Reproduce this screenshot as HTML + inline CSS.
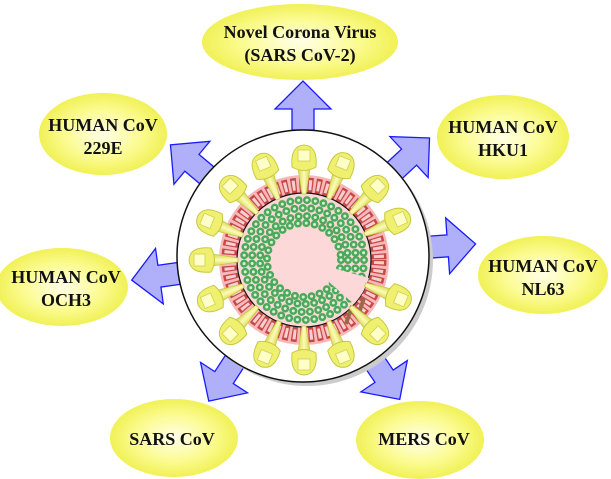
<!DOCTYPE html>
<html><head><meta charset="utf-8"><style>
html,body{margin:0;padding:0;background:#fff}
svg{display:block}
text{font-family:"Liberation Serif",serif;font-weight:bold;font-size:18px;fill:#111;text-anchor:middle}
</style></head><body>
<svg width="611" height="479" viewBox="0 0 611 479" xmlns="http://www.w3.org/2000/svg">
<defs>
<radialGradient id="yg" cx="50%" cy="50%" r="55%">
<stop offset="0" stop-color="#ffffe8"/><stop offset="0.55" stop-color="#fbfb90"/><stop offset="1" stop-color="#eeee48"/>
</radialGradient>
<linearGradient id="sg" x1="0" x2="1" y1="0" y2="0">
<stop offset="0" stop-color="#d8d850"/><stop offset="0.5" stop-color="#fbfbb8"/><stop offset="1" stop-color="#d8d850"/>
</linearGradient>
<g id="arr"><path d="M-11,0 L-11,-21 L-28,-21 L0,-49 L28,-21 L11,-21 L11,0 Z" fill="#b0b0fa" stroke="#1a1aff" stroke-width="1.3"/></g>
<g id="sp">
<path d="M-2,-66 L-6,-92 L6,-92 L2,-66 Z" fill="url(#sg)" stroke="#c8c840" stroke-width="0.8"/>
<path d="M-12,-93 Q-14,-114 0,-115 Q14,-114 12,-93 Q0,-86 -12,-93 Z" fill="#f0f070" stroke="#c8c840" stroke-width="1"/>
<rect x="-6" y="-110" width="12" height="11" fill="#ffffc8" stroke="#d0d050" stroke-width="0.8"/>
</g>
</defs>
<rect width="611" height="479" fill="#fff"/>
<g transform="translate(303,256)">
<use href="#arr" transform="rotate(0) translate(0,-126)"/>
<use href="#arr" transform="rotate(47) translate(0,-124)"/>
<use href="#arr" transform="rotate(86) translate(0,-124)"/>
<use href="#arr" transform="rotate(146) translate(0,-124)"/>
<use href="#arr" transform="rotate(213) translate(0,-124)"/>
<use href="#arr" transform="rotate(262) translate(0,-124)"/>
<use href="#arr" transform="rotate(310) translate(0,-124)"/>
</g>
<circle cx="307" cy="260" r="126" fill="#ccc"/>
<circle cx="303" cy="256" r="126" fill="#fff" stroke="#111" stroke-width="1.5"/>
<g transform="translate(304,260)">
<circle r="85" fill="#f9b8b8"/>
<circle r="75" fill="none" stroke="#c84848" stroke-width="15" stroke-dasharray="5.5 2.8"/>
<circle r="75" fill="none" stroke="#f6d0d0" stroke-width="10" stroke-dasharray="3 5.3" stroke-dashoffset="-1.2"/>
<circle r="67" fill="#fcd8d8" stroke="#111" stroke-width="1.2"/>
<g fill="none" stroke="#4ca85a" stroke-linecap="round" stroke-width="8">
<circle r="60" stroke-dasharray="0 8.4"/>
<circle r="52" stroke-dasharray="0 8.4"/>
<circle r="44" stroke-dasharray="0 8.4"/>
<circle r="37" stroke-dasharray="0 8.4"/>
</g>
<g fill="none" stroke="#d8f2d8" stroke-linecap="round" stroke-width="3">
<circle r="60" stroke-dasharray="0 8.4"/>
<circle r="52" stroke-dasharray="0 8.4"/>
<circle r="44" stroke-dasharray="0 8.4"/>
<circle r="37" stroke-dasharray="0 8.4"/>
</g>
<path d="M0,0 L65,18 A67,67 0 0 1 50,44 Z" fill="#fcd8d8"/>
<circle r="32" fill="#fcd8d8"/>
<path d="M60,38 L54,56 M48,46 L42,64" stroke="#9a6a48" stroke-width="4"/>
<use href="#sp" transform="rotate(0)"/>
<use href="#sp" transform="rotate(22)"/>
<use href="#sp" transform="rotate(45)"/>
<use href="#sp" transform="rotate(67)"/>
<use href="#sp" transform="rotate(112)"/>
<use href="#sp" transform="rotate(135)"/>
<use href="#sp" transform="rotate(158)"/>
<use href="#sp" transform="rotate(180)"/>
<use href="#sp" transform="rotate(202)"/>
<use href="#sp" transform="rotate(225)"/>
<use href="#sp" transform="rotate(247)"/>
<use href="#sp" transform="rotate(270)"/>
<use href="#sp" transform="rotate(292)"/>
<use href="#sp" transform="rotate(315)"/>
<use href="#sp" transform="rotate(337)"/>
</g>
<ellipse cx="300" cy="42" rx="98" ry="38" fill="url(#yg)"/>
<text x="300" y="38">Novel Corona Virus</text>
<text x="300" y="61">(SARS CoV-2)</text>
<ellipse cx="103" cy="134" rx="64" ry="41" fill="url(#yg)"/>
<text x="103" y="131">HUMAN CoV</text>
<text x="103" y="154">229E</text>
<ellipse cx="503" cy="137" rx="66" ry="42" fill="url(#yg)"/>
<text x="503" y="133">HUMAN CoV</text>
<text x="503" y="156">HKU1</text>
<ellipse cx="543" cy="275" rx="65" ry="39" fill="url(#yg)"/>
<text x="543" y="272">HUMAN CoV</text>
<text x="543" y="295">NL63</text>
<ellipse cx="62" cy="287" rx="66" ry="39" fill="url(#yg)"/>
<text x="66" y="283">HUMAN CoV</text>
<text x="66" y="306">OCH3</text>
<ellipse cx="174" cy="438" rx="64" ry="39" fill="url(#yg)"/>
<text x="172" y="445">SARS CoV</text>
<ellipse cx="420" cy="440" rx="64" ry="39" fill="url(#yg)"/>
<text x="424" y="445">MERS CoV</text>
</svg>
</body></html>
